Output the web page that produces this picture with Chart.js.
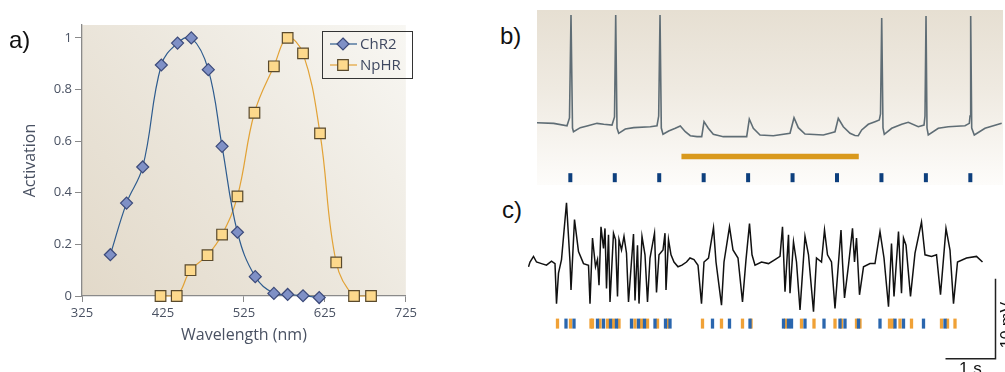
<!DOCTYPE html>
<html>
<head>
<meta charset="utf-8">
<script src="https://cdn.jsdelivr.net/npm/chart.js@4"></script>
<style>
  body { margin: 0; width: 1005px; height: 372px; overflow: hidden; background: #fff; position: relative; font-family: Arial, 'Liberation Sans', sans-serif; }
  canvas { position: absolute; }
  #chartA { left: 0; top: 0; }
  #chartB { left: 537px; top: 10px; background: linear-gradient(to bottom, #e6dfd2 0%, #efeae1 45%, #fdfcfa 100%); }
  #chartC { left: 528px; top: 195px; }
  .lbl { position: absolute; color: #111; }
</style>
</head>
<body>
<canvas id="chartA" width="420" height="372"></canvas>
<canvas id="chartB" width="466" height="175"></canvas>
<canvas id="chartC" width="477" height="177"></canvas>
<div class="lbl" style="left:9px;top:26px;font-size:24px;">a)</div>
<div class="lbl" style="left:500px;top:22px;font-size:24px;">b)</div>
<div class="lbl" style="left:502px;top:196px;font-size:24px;">c)</div>
<div class="lbl" style="left:959px;top:360px;font-size:17px;line-height:17px;">1 s</div>
<div class="lbl" style="left:977px;top:316px;width:60px;height:18px;line-height:18px;text-align:center;font-size:16px;transform:rotate(-90deg);">10 mV</div>
<script>
// a) activation spectra
const wlChR2 = [360, 380, 400, 423, 443, 460, 481, 498, 517, 539, 562, 579, 598, 618];
const actChR2 = [0.16, 0.36, 0.50, 0.895, 0.98, 1.0, 0.877, 0.58, 0.247, 0.075, 0.01, 0.006, 0.001, -0.006];
const wlNpHR = [422, 442, 459, 480, 498, 517, 538, 562, 579, 598, 619, 639, 661, 682];
const actNpHR = [0, 0, 0.10, 0.158, 0.238, 0.386, 0.71, 0.89, 1.0, 0.94, 0.63, 0.13, 0, 0];
const wlTicks = [325, 425, 525, 625, 725];

// b) membrane potential (ms, mV), light pulses and halo light period
const bTime = [0, 37.6, 67.5, 73.1, 76.5, 79.9, 82.1, 97.4, 112.5, 135, 150.1, 168.8, 174.4, 177.1, 180, 183.8,
  198.7, 217.6, 254.9, 270, 273.8, 276.8, 279.7, 283.5, 296.3, 311.2, 322.4, 333.7, 344.9, 360, 370.6, 375.8,
  385.4, 396.7, 419.2, 471.8, 477.7, 486.7, 501.8, 531.7, 569.3, 578.3, 587.9, 603, 644.2, 663.1, 670.5, 677.9,
  689.2, 704.3, 715.5, 722.9, 730.6, 745.4, 760.5, 770.2, 772.9, 775.6, 778.5, 781.4, 798.1, 820.6, 835.4, 857.9,
  870.8, 873, 875.3, 877.5, 880.4, 902.9, 925.4, 963, 972.7, 974.3, 975.8, 978.1, 983.9, 1008, 1045.6];
const bVm = [-64.8, -65.3, -67.3, -60.8, 25, -69.2, -72.3, -68.9, -67.5, -65.3, -66.1, -66.7, -60, 25, -69.2, -73.6,
  -70, -68.9, -68.1, -67.3, -59.2, 25, -69.2, -74.4, -71.7, -69.4, -67.5, -72.3, -75.6, -76.4, -76.4, -63.9,
  -69.4, -74.4, -76.4, -76.4, -61.7, -69.4, -75, -75.6, -73.6, -60.6, -68.9, -74.2, -75, -73.1, -72.3, -61.1,
  -68.1, -73.6, -75.4, -75.6, -70.8, -66.1, -63.9, -62.5, -57.5, 22.5, -69.2, -74.4, -69.4, -66.1, -64.4, -68.1,
  -66.7, -59.2, 24.2, -69.2, -75, -69.4, -68.1, -67.3, -65.3, -59.2, 24.2, -69.2, -75, -69.4, -65.3];
const bPulses = [75, 175, 275, 375, 475, 575, 675, 775, 875, 975];
const bLight = [325, 724];

// c) extracellular trace (s, mV) and sorted spikes
const cTime = [0.01, 0.04, 0.11, 0.17, 0.27, 0.37, 0.47, 0.54, 0.57, 0.61,
  0.67, 0.77, 0.84, 0.86, 0.93, 1.01, 1.11, 1.21, 1.24, 1.29,
  1.35, 1.39, 1.42, 1.46, 1.51, 1.54, 1.57, 1.61, 1.64, 1.71,
  1.75, 1.79, 1.82, 1.87, 1.92, 1.97, 2.01, 2.11, 2.14, 2.19,
  2.22, 2.28, 2.34, 2.39, 2.44, 2.53, 2.57, 2.62, 2.70, 2.74,
  2.76, 2.81, 2.86, 2.92, 3.00, 3.08, 3.17, 3.24, 3.32, 3.40,
  3.47, 3.52, 3.61, 3.71, 3.76, 3.87, 3.92, 4.03, 4.10, 4.20,
  4.29, 4.36, 4.43, 4.48, 4.54, 4.67, 4.81, 4.94, 5.04, 5.09,
  5.14, 5.21, 5.24, 5.31, 5.37, 5.44, 5.54, 5.61, 5.71, 5.77,
  5.87, 5.93, 5.99, 6.07, 6.14, 6.26, 6.29, 6.33, 6.41, 6.49,
  6.53, 6.57, 6.63, 6.71, 6.84, 6.94, 7.04, 7.12, 7.21, 7.27,
  7.32, 7.41, 7.47, 7.51, 7.56, 7.65, 7.74, 7.87, 7.94, 8.07,
  8.17, 8.25, 8.36, 8.44, 8.51, 8.59, 8.77, 8.97, 9.09];
const cVm = [-0.6, 0.0, 0.7, 0.0, -0.2, -0.4, 0.1, -0.2, -5.2, -1.4,
  0.3, 7.4, 0.0, -3.5, 5.3, 1.3, -0.2, -0.4, -5.2, 3.0,
  -0.6, 0.3, -2.9, 4.4, 1.7, 4.2, -3.3, 3.4, -5.0, 3.6,
  2.8, -4.3, 2.8, 1.5, 3.2, 1.1, -5.0, 3.5, -4.8, 2.1,
  -5.2, 3.2, 0.9, -5.0, 0.5, 3.6, -3.8, 0.9, 1.5, 3.6,
  -3.5, 2.8, 0.9, 0.0, -0.6, -0.4, 0.0, 0.5, 0.3, -0.4,
  -5.2, 0.0, 0.5, 4.3, 0.0, -5.4, 0.0, 4.4, 1.5, 0.5,
  -5.0, 0.3, 4.8, 0.9, -0.4, 0.0, -0.2, 0.3, 0.7, 4.4,
  -3.7, 3.4, -3.9, 2.5, 0.0, -6.0, 3.2, 0.9, -6.2, 0.5,
  0.0, 4.0, 0.9, 0.0, -5.8, 4.0, 0.0, -4.5, -0.4, 4.2,
  0.0, 3.0, -4.1, -0.6, -0.2, -0.2, 3.8, 0.5, -5.6, 2.3,
  -4.3, 3.8, -3.9, 3.0, 2.1, -4.3, 1.1, 5.0, 0.9, 0.7,
  0.9, -4.1, 4.2, 1.5, -5.2, 0.0, 0.5, 0.7, 0.0];
const cOrange = [0.59, 0.85, 1.26, 1.29, 1.44, 1.59, 1.71, 1.82, 2.14, 2.27, 2.39, 2.59, 2.79, 3.49, 3.87,
  4.29, 4.46, 5.15, 5.47, 5.72, 6.14, 6.27, 6.57, 6.64, 7.23, 7.29, 7.44, 7.67, 8.27, 8.39, 8.54];
const cBlue = [0.76, 0.92, 1.39, 1.51, 1.65, 1.77, 2.07, 2.21, 2.33, 2.54, 2.75, 2.84, 3.69, 4.03, 4.44,
  5.11, 5.21, 5.27, 5.54, 5.92, 6.24, 6.34, 6.61, 7.04, 7.34, 7.51, 7.91, 8.34];
const scaleT = [8.35, 9.35, 9.35];
const scaleV = [-12.1, -12.1, -2.1];

Chart.defaults.font.family = "'Open Sans', sans-serif";
Chart.defaults.animation = false;
Chart.defaults.events = [];

const pairs = (xs, ys) => xs.map((x, i) => ({ x: x, y: ys[i] }));
const level = (xs, y) => xs.map(x => ({ x: x, y: y }));
const noLegend = { legend: { display: false }, tooltip: { enabled: false } };

// plot background + boxed legend for panel a
const panelA = {
  id: 'panelA',
  beforeDraw(chart) {
    const { ctx, chartArea: a } = chart;
    const g = ctx.createLinearGradient(a.left, a.bottom, a.right, a.top);
    g.addColorStop(0, '#e2d9c9');
    g.addColorStop(0.5, '#ece7dd');
    g.addColorStop(1, '#f8f7f3');
    ctx.save();
    ctx.fillStyle = g;
    ctx.fillRect(a.left, a.top, a.right - a.left, a.bottom - a.top);
    ctx.restore();
  },
  afterDraw(chart) {
    const ctx = chart.ctx;
    ctx.save();
    ctx.strokeStyle = '#333';
    ctx.lineWidth = 1;
    ctx.strokeRect(322.5, 31.5, 90, 47);
    chart.data.datasets.forEach((ds, i) => {
      const y = 44 + i * 21;
      ctx.strokeStyle = ds.borderColor;
      ctx.lineWidth = 1.2;
      ctx.beginPath();
      ctx.moveTo(330, y);
      ctx.lineTo(357, y);
      ctx.stroke();
      ctx.fillStyle = ds.pointBackgroundColor;
      ctx.strokeStyle = ds.pointBorderColor;
      ctx.beginPath();
      if (ds.pointStyle === 'rectRot') {
        ctx.moveTo(343, y - 6); ctx.lineTo(349, y); ctx.lineTo(343, y + 6); ctx.lineTo(337, y);
        ctx.closePath();
      } else {
        ctx.rect(337.7, y - 5.3, 10.6, 10.6);
      }
      ctx.fill();
      ctx.stroke();
      ctx.fillStyle = '#3f4860';
      ctx.font = "15px 'Open Sans', sans-serif";
      ctx.textBaseline = 'middle';
      ctx.fillText(ds.label, 360, y + 1);
    });
    ctx.restore();
  }
};

new Chart(document.getElementById('chartA'), {
  type: 'line',
  data: {
    datasets: [{
      label: 'ChR2',
      data: pairs(wlChR2, actChR2),
      borderColor: '#2d5b8e',
      borderWidth: 1.2,
      tension: 0.4,
      pointStyle: 'rectRot',
      pointRadius: 6,
      pointBackgroundColor: '#7f90c6',
      pointBorderColor: '#3c4a7a',
      pointBorderWidth: 1.2,
      clip: false
    }, {
      label: 'NpHR',
      data: pairs(wlNpHR, actNpHR),
      borderColor: '#e2a235',
      borderWidth: 1.2,
      tension: 0.4,
      pointStyle: 'rect',
      pointRadius: 7.5,
      pointBackgroundColor: '#fdd98c',
      pointBorderColor: '#5a4a2c',
      pointBorderWidth: 1.2,
      clip: false
    }]
  },
  options: {
    responsive: false,
    layout: { autoPadding: false, padding: { left: 0, top: 25, right: 12, bottom: 0 } },
    plugins: noLegend,
    scales: {
      x: {
        type: 'linear', min: 325, max: 725,
        afterFit: s => { s.height = 76; },
        afterBuildTicks: s => { s.ticks = wlTicks.map(v => ({ value: v })); },
        grid: { drawOnChartArea: false, tickLength: 6, color: '#8a8a8a' },
        border: { color: '#8a8a8a', width: 1.3 },
        ticks: { color: '#4a5263', font: { size: 13 }, padding: 3, maxRotation: 0 },
        title: { display: true, text: 'Wavelength (nm)', color: '#4a5263', font: { size: 16 }, padding: { bottom: 27 } }
      },
      y: {
        min: 0, max: 1.05,
        afterFit: s => { s.width = 82; },
        ticks: {
          stepSize: 0.2, includeBounds: false, color: '#4a5263', font: { size: 13 }, padding: 3,
          callback: v => String(Math.round(v * 10) / 10)
        },
        grid: { drawOnChartArea: false, tickLength: 7, color: '#8a8a8a' },
        border: { color: '#8a8a8a', width: 1.3 },
        title: { display: true, text: 'Activation', color: '#4a5263', font: { size: 16 }, padding: { top: 21 } }
      }
    }
  },
  plugins: [panelA]
});

// b) patch clamp trace
new Chart(document.getElementById('chartB'), {
  type: 'line',
  data: {
    datasets: [{
      data: pairs(bTime, bVm),
      borderColor: '#5f6d75', borderWidth: 1.6, pointRadius: 0, tension: 0
    }, {
      data: level(bLight, -92.9),
      borderColor: '#d9991c', borderWidth: 5.5, pointRadius: 0
    }, {
      data: level(bPulses, -110.6),
      showLine: false, pointStyle: 'line', pointRotation: 90, pointRadius: 4.5,
      pointBorderWidth: 4, pointBorderColor: '#0d3f7d', borderColor: '#0d3f7d'
    }]
  },
  options: {
    responsive: false,
    layout: { autoPadding: false, padding: 0 },
    plugins: noLegend,
    scales: {
      x: { type: 'linear', display: false, min: 0, max: 1048.5 },
      y: { display: false, min: -116.7, max: 29.2 }
    }
  }
});

// c) extracellular trace with sorted units and scale bar
new Chart(document.getElementById('chartC'), {
  type: 'line',
  data: {
    datasets: [{
      data: pairs(cTime, cVm),
      borderColor: '#111111', borderWidth: 1.5, pointRadius: 0, tension: 0
    }, {
      data: level(cBlue, -7.7),
      showLine: false, pointStyle: 'line', pointRotation: 90, pointRadius: 5,
      pointBorderWidth: 3.3, pointBorderColor: '#2a66ae', borderColor: '#2a66ae'
    }, {
      data: level(cOrange, -7.7),
      showLine: false, pointStyle: 'line', pointRotation: 90, pointRadius: 5,
      pointBorderWidth: 3.3, pointBorderColor: '#f0a136', borderColor: '#f0a136'
    }, {
      data: pairs(scaleT, scaleV),
      borderColor: '#222222', borderWidth: 1.5, pointRadius: 0, tension: 0
    }]
  },
  options: {
    responsive: false,
    layout: { autoPadding: false, padding: 0 },
    plugins: noLegend,
    scales: {
      x: { type: 'linear', display: false, min: 0, max: 9.54 },
      y: { display: false, min: -13.75, max: 8.375 }
    }
  }
});
</script>
</body>
</html>
